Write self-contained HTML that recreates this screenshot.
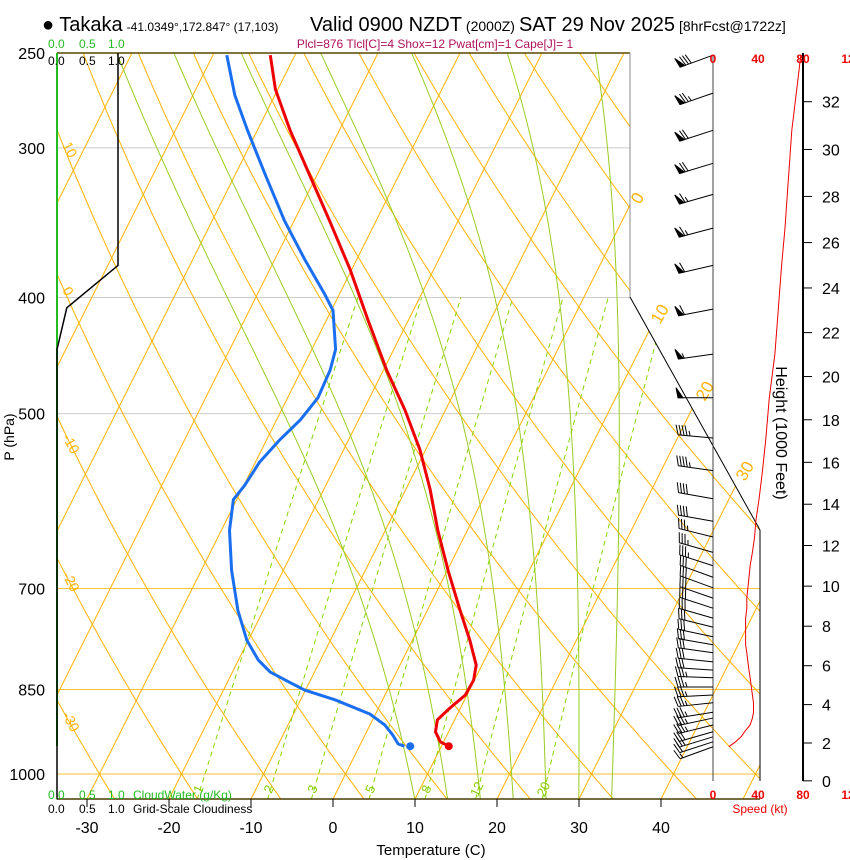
<!DOCTYPE html>
<html><head><meta charset="utf-8"><style>
html,body{margin:0;padding:0;background:#fff;}
svg{display:block;font-family:"Liberation Sans",sans-serif;}
</style></head><body>
<svg id="chart" width="850" height="860" viewBox="0 0 850 860" xmlns="http://www.w3.org/2000/svg">
<defs><clipPath id="plotclip"><polygon points="57,53 630,53 630,297 760,530 760,799 57,799"/></clipPath></defs>
<g id="bg" clip-path="url(#plotclip)"></g>
<g id="fg"></g>
<g id="txt">
<text x="42" y="31" font-size="20"><tspan>● Takaka</tspan><tspan font-size="12" dx="4">-41.0349°,172.847° (17,103)</tspan></text>
<text x="310" y="31" font-size="20"><tspan>Valid 0900 NZDT</tspan><tspan font-size="14" dx="4">(2000Z)</tspan><tspan dx="4">SAT 29 Nov 2025</tspan><tspan font-size="14" dx="4">[8hrFcst@1722z]</tspan></text>
<text x="435" y="48" font-size="12" fill="#b0105a" text-anchor="middle">Plcl=876 Tlcl[C]=4 Shox=12 Pwat[cm]=1 Cape[J]= 1</text>
<g font-size="12" fill="#22bb22"><text x="48" y="48">0.0</text><text x="79" y="48">0.5</text><text x="108" y="48">1.0</text></g>
<g font-size="12" fill="#000"><text x="48" y="65">0.0</text><text x="79" y="65">0.5</text><text x="108" y="65">1.0</text></g>
<g font-size="12" fill="#22bb22"><text x="48" y="799">0.0</text><text x="79" y="799">0.5</text><text x="108" y="799">1.0</text><text x="133" y="799">CloudWater (g/Kg)</text></g>
<g font-size="12" fill="#000"><text x="48" y="813">0.0</text><text x="79" y="813">0.5</text><text x="108" y="813">1.0</text><text x="133" y="813">Grid-Scale Cloudiness</text></g>
<text x="0" y="0" font-size="14" text-anchor="middle" transform="translate(14,437) rotate(-90)">P (hPa)</text>
<text x="431" y="855" font-size="15" text-anchor="middle">Temperature (C)</text>
<text x="0" y="0" font-size="16" text-anchor="middle" transform="translate(776,433) rotate(90)">Height (1000 Feet)</text>
<text x="760" y="813" font-size="12" fill="#ee0000" text-anchor="middle">Speed (kt)</text>
</g>
</svg>
<script>
// ---- data ----
const tempP = [251,268,290,316,345,379,418,460,497,536,579,626,676,730,773,811,835,859,881,901,922,940,948];
const tempT = [-53.0,-50.3,-46.0,-40.9,-35.7,-30.2,-24.9,-19.6,-14.9,-10.7,-7.0,-3.6,0.1,4.0,7.0,9.3,9.9,9.8,8.7,7.9,8.4,9.6,10.9];
const dewP = [251,271,290,316,345,372,398,410,442,460,485,506,526,549,574,590,626,676,730,773,803,822,839,851,867,891,910,928,944,948];
const dewT = [-58.3,-54.9,-51.2,-46.3,-41.2,-36.3,-31.7,-29.8,-27.1,-26.5,-26.3,-27.1,-28.4,-29.5,-29.9,-30.4,-29.0,-26.3,-23.1,-20.2,-17.6,-15.4,-12.3,-10.1,-5.8,-0.7,1.8,3.4,4.6,5.5];
const sfcP = 948, sfcT = 10.9, sfcTd = 6.2;
const cloudP = [250,376,408,442,1050];
const cloudFrac = [1.0,1.0,0.16,0.0,0.0];
const windP = [251,270,290,309,328,350,376,409,446,485,524,558,589,615,634,653,670,685,699,713,727,741,754,768,780,792,806,819,831,846,859,872,888,898,910,922,931,940,949];
const windSpd = [78,74,70,68,66,64,61,58,55,50,47,44,41,38,37,35,33,32,31,30,30,29,29,29,29,30,31,32,33,34,35,36,36,35,33,28,25,20,14];
const windDir = [250,251,252,253,254,255,257,259,262,270,275,278,280,280,284,286,288,290,290,289,288,286,284,282,280,278,276,274,272,270,267,264,261,258,256,254,253,252,250];
const pLabels = [250,300,400,500,700,850,1000];
const tLabels = [-30,-20,-10,0,10,20,30,40];
const hLabels = [0,2,4,6,8,10,12,14,16,18,20,22,24,26,28,30,32];
const spdLabels = ["0","40","80","12"];
const spdValues = [0,40,80,120];
const mixRatios = [1,2,3,5,8,12,20];
const isoTemps = []; for(let t=-130;t<=50;t+=10) isoTemps.push(t);
const thetas = []; for(let t=-40;t<=250;t+=10) thetas.push(t);
const moistT = [10,14,18,22,26,30,34];

// ---- axes ----
const NS='http://www.w3.org/2000/svg';
function yP(p){return 774+520*Math.log(p/1000);}
function xT(T,p){return 333+8.2*T+0.5*(799-yP(p));}
function xS(s){return 713+s*1.125;}
function stdP(hm){return 1013.25*Math.pow(1-2.25577e-5*hm,5.25588);}
const bg=document.getElementById('bg'), fg=document.getElementById('fg');
function el(tag,attrs,parent){const e=document.createElementNS(NS,tag);for(const k in attrs)e.setAttribute(k,attrs[k]);(parent||fg).appendChild(e);return e;}
function pts(arr){return arr.map(a=>a[0].toFixed(1)+','+a[1].toFixed(1)).join(' ');}

pLabels.forEach(p=>{
  const y=yP(p);
  const l=el('line',{x1:57,y1:y,x2:760,y2:y,stroke:p>=700?'#ffc233':'#ccc','stroke-width':1},bg);
  
  
});
isoTemps.forEach(t=>{
  const l=el('line',{x1:xT(t,1050),y1:yP(1050),x2:xT(t,250),y2:yP(250),stroke:'#ffb300','stroke-width':1},bg);
  
  
});
thetas.forEach(th=>{
  const a=[];for(let p=1050;p>=250;p-=10){const T=(th+273.15)*Math.pow(p/1000,0.286)-273.15;a.push([xT(T,p),yP(p)]);}
  const l=el('polyline',{points:pts(a),fill:'none',stroke:'#ffb300','stroke-width':1},bg);
  
  
});
function es(Tc){return 6.112*Math.exp(17.67*Tc/(Tc+243.5));}
moistT.forEach(t0=>{
  let T=t0+273.15;const a=[];
  for(let p=1050;p>=250;p-=2){
    a.push([xT(T-273.15,p),yP(p)]);
    const e=es(T-273.15), rs=0.622*e/(p-e);
    const dTdp=(287*T+2.5e6*rs)/(p*(1004+2.5e6*2.5e6*rs*0.622/(287*T*T)));
    T-=dTdp*2;
  }
  const l=el('polyline',{points:pts(a),fill:'none',stroke:'#99cc22','stroke-width':1},bg);
  
  
});
mixRatios.forEach(w=>{
  const a=[];
  for(let p=1050;p>=400;p-=10){const e=w*p/(622+w);const L=Math.log(e/6.112);const Td=243.5*L/(17.67-L);a.push([xT(Td,p),yP(p)]);}
  const l=el('polyline',{points:pts(a),fill:'none',stroke:'#88d400','stroke-width':1,'stroke-dasharray':'5,4'},bg);
  
  
  const e=w*1050/(622+w);const L=Math.log(e/6.112);const Td=243.5*L/(17.67-L);
  const tx=el('text',{x:0,y:0,'font-size':13,fill:'#88cc00','text-anchor':'middle',transform:'translate('+(xT(Td,1045)+4)+',791) rotate(-65)'},bg);
  tx.textContent=w;
  
  
});
[[10,62,145],[0,62,290],[-10,62,437],[-20,62,575],[-30,62,715]].forEach(d=>{
  const t=el('text',{x:0,y:0,'font-size':14,fill:'#ffb300',transform:'translate('+d[1]+','+d[2]+') rotate(62)'});
  t.textContent=d[0];
  
  
});
[[0,640,205],[10,660,325],[20,705,402],[30,745,482]].forEach(d=>{
  const t=el('text',{x:0,y:0,'font-size':17,fill:'#ffb300',transform:'translate('+d[1]+','+d[2]+') rotate(-60)'});
  t.textContent=d[0];
  
  
});
[[57,53,630,53,'#5a4a00',1.5],[57,799,760,799,'#4a3a00',1.5],[630,53,630,297,'#888',1],[630,297,760,530,'#000',1],[760,530,760,781,'#000',1],[713,55,713,781,'#444',1],[803,53,803,781,'#000',2]].forEach(d=>{
  const l=el('line',{x1:d[0],y1:d[1],x2:d[2],y2:d[3],stroke:d[4],'stroke-width':d[5]});
  
  
});
const cw=el('line',{x1:57,y1:53,x2:57,y2:746,stroke:'#22bb22','stroke-width':2});


const cl=el('polyline',{points:pts(cloudP.map((p,i)=>[57+61*cloudFrac[i],yP(p)])),fill:'none',stroke:'#000','stroke-width':1.5});


const tl=el('polyline',{points:pts(tempP.map((p,i)=>[xT(tempT[i],p),yP(p)])),fill:'none',stroke:'#ee0000','stroke-width':3,'stroke-linejoin':'round'});


const dl=el('polyline',{points:pts(dewP.map((p,i)=>[xT(dewT[i],p),yP(p)])),fill:'none',stroke:'#1a6ef0','stroke-width':3,'stroke-linejoin':'round'});


const td=el('circle',{cx:xT(sfcT,sfcP),cy:yP(sfcP),r:4,fill:'#ee0000'});


const dd=el('circle',{cx:xT(sfcTd,sfcP),cy:yP(sfcP),r:4,fill:'#1a6ef0'});


const sl=el('polyline',{points:pts(windP.map((p,i)=>[xS(windSpd[i]),yP(p)])),fill:'none',stroke:'#ee0000','stroke-width':1});


windP.forEach((p,i)=>{
  const y=yP(p),x0=713,L=35,r=windDir[i]*Math.PI/180;
  const ux=Math.sin(r),uy=-Math.cos(r),nx=-uy,ny=ux;
  const g=el('g',{stroke:'#000','stroke-width':1,fill:'#000'});
  
  
  el('line',{x1:x0,y1:y,x2:x0+ux*L,y2:y+uy*L},g);
  let s=Math.round(windSpd[i]/5)*5,off=0;
  while(s>=50){const bx=x0+ux*(L-off),by=y+uy*(L-off);
    el('polygon',{points:pts([[bx,by],[bx+nx*10+ux*2,by+ny*10+uy*2],[bx-ux*5,by-uy*5]])},g);off+=6;s-=50;}
  while(s>=10){const bx=x0+ux*(L-off),by=y+uy*(L-off);
    el('line',{x1:bx,y1:by,x2:bx+nx*10+ux*3,y2:by+ny*10+uy*3},g);off+=3;s-=10;}
  if(s>=5){if(off===0)off=3;const bx=x0+ux*(L-off),by=y+uy*(L-off);
    el('line',{x1:bx,y1:by,x2:bx+nx*5+ux*1.5,y2:by+ny*5+uy*1.5},g);}
});
pLabels.forEach(p=>{
  const t=el('text',{x:45,y:yP(p)+6,'font-size':16,'text-anchor':'end'});
  t.textContent=p;
  
  
});
tLabels.forEach(T=>{
  const x=333+8.2*T;
  const tk=el('line',{x1:x,y1:799,x2:x,y2:807,stroke:'#000'});
  
  
  const t=el('text',{x:x,y:833,'font-size':16,'text-anchor':'middle'});
  t.textContent=T;
  
  
});
hLabels.forEach(h=>{
  const y=yP(stdP(h*1000*0.3048));
  const tk=el('line',{x1:803,y1:y,x2:812,y2:y,stroke:'#000'});
  
  
  const t=el('text',{x:822,y:y+6,'font-size':16});
  t.textContent=h;
  
  
});
spdValues.forEach((s,i)=>{
  [63,799].forEach(yy=>{
    const t=el('text',{x:xS(s),y:yy,'font-size':12,'font-weight':'bold',fill:'#ee0000','text-anchor':'middle'});
    t.textContent=spdLabels[i];
    
    
  });
});
</script>
</body></html>
